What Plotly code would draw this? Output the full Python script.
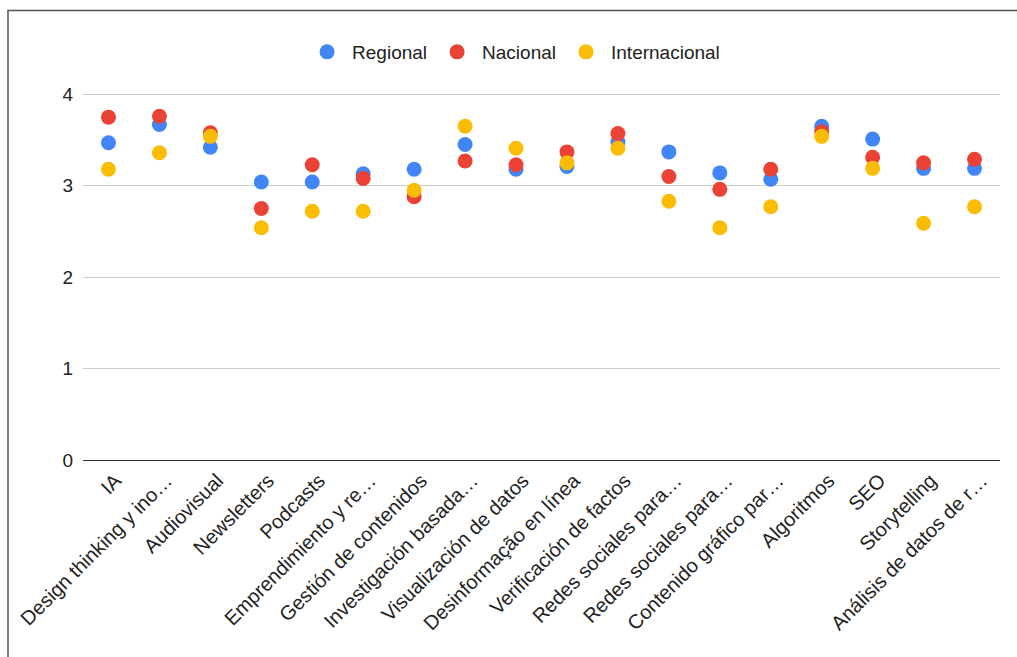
import plotly.graph_objects as go

# Skill areas (labels truncated as in the dashboard)
categories = [
    "IA",
    "Design thinking y ino…",
    "Audiovisual",
    "Newsletters",
    "Podcasts",
    "Emprendimiento y re…",
    "Gestión de contenidos",
    "Investigación basada…",
    "Visualización de datos",
    "Desinformação en línea",
    "Verificación de factos",
    "Redes sociales para…",
    "Redes sociales para…",
    "Contenido gráfico par…",
    "Algoritmos",
    "SEO",
    "Storytelling",
    "Análisis de datos de r…",
]

regional = [3.47, 3.67, 3.42, 3.04, 3.04, 3.13, 3.18, 3.45, 3.18,
            3.21, 3.48, 3.37, 3.14, 3.07, 3.65, 3.51, 3.19, 3.19]
nacional = [3.75, 3.76, 3.58, 2.75, 3.23, 3.08, 2.88, 3.27, 3.23,
            3.37, 3.57, 3.10, 2.96, 3.18, 3.59, 3.31, 3.25, 3.29]
internacional = [3.18, 3.36, 3.54, 2.54, 2.72, 2.72, 2.95, 3.65, 3.41,
                 3.25, 3.41, 2.83, 2.54, 2.77, 3.54, 3.19, 2.59, 2.77]

y_ticks = [0, 1, 2, 3, 4]

series = [
    ("Regional", regional, "#4285F4"),
    ("Nacional", nacional, "#EA4335"),
    ("Internacional", internacional, "#FBBC04"),
]

# Positions by index so repeated labels stay separate
x_pos = list(range(len(categories)))

FONT = "Liberation Sans, Arial, sans-serif"

fig = go.Figure()
for name, values, color in series:
    fig.add_trace(go.Scatter(
        x=x_pos, y=values, name=name, mode="markers",
        marker=dict(color=color, size=15, line=dict(width=0)),
    ))

W, H = 1017, 657
ml, mr, mt, mb = 83, 17, 76, 197
plot_w = W - ml - mr
plot_h = H - mt - mb

# Outer frame (left and top edges) in paper coordinates
fx = (8 - ml) / plot_w
fy = (H - mb - 10.5) / plot_h
fy_bottom = (H - mb - 700) / plot_h
fx_right = (1100 - ml) / plot_w

fig.update_layout(
    width=W, height=H,
    margin=dict(l=ml, r=mr, t=mt, b=mb, autoexpand=False),
    paper_bgcolor="white", plot_bgcolor="white",
    font=dict(family=FONT, size=19, color="#222222"),
    showlegend=True,
    legend=dict(
        orientation="h", xref="container", yref="container",
        x=0.505, xanchor="center", y=(H - 52) / H, yanchor="middle",
        font=dict(family=FONT, size=19, color="#222222"),
        itemsizing="trace", itemwidth=40,
        itemclick=False, itemdoubleclick=False,
    ),
    xaxis=dict(
        range=[-0.5, len(categories) - 0.5],
        tickmode="array", tickvals=x_pos, ticktext=categories,
        tickangle=-45, showgrid=False, zeroline=False,
        showline=False, ticks="", automargin=False,
        ticklabelshift=7, ticklabelstandoff=4,
        tickfont=dict(family=FONT, size=20, color="#222222"),
    ),
    yaxis=dict(
        range=[0, 4.2], tickmode="array", tickvals=y_ticks,
        showgrid=True, gridcolor="#cccccc", gridwidth=1,
        zeroline=True, zerolinecolor="#333333", zerolinewidth=1,
        showline=False, ticks="", ticklabelstandoff=9, automargin=False,
        tickfont=dict(family=FONT, size=19, color="#222222"),
    ),
    shapes=[dict(
        type="path", xref="paper", yref="paper",
        path=f"M {fx} {fy_bottom} L {fx} {fy} L {fx_right} {fy}",
        line=dict(color="#555555", width=1.5),
    )],
)

fig.write_html("out.html")
